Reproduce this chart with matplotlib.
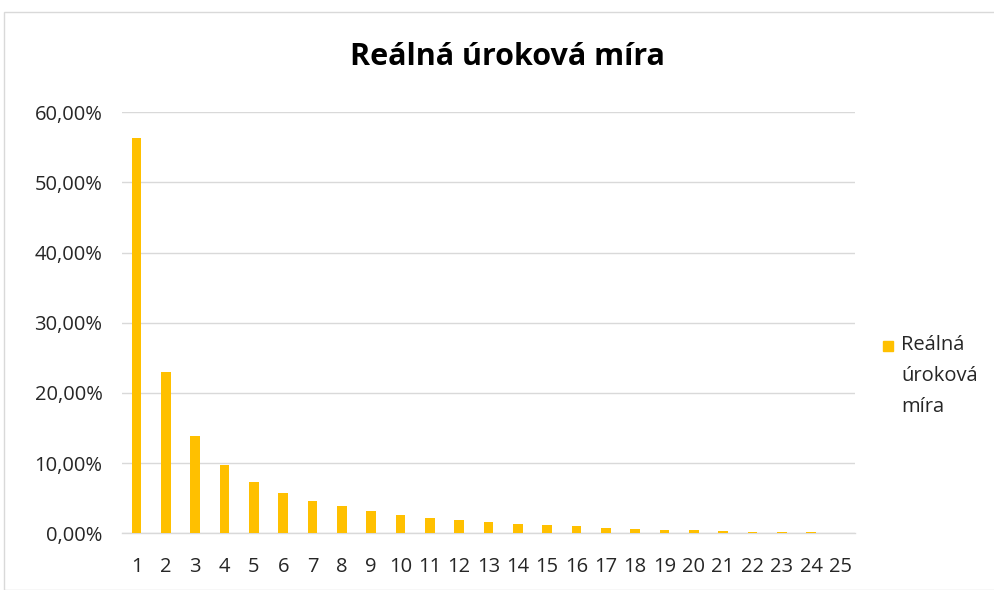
import matplotlib.pyplot as plt
from matplotlib.patches import Rectangle
import numpy as np

plt.rcParams['font.family'] = ['Open Sans', 'DejaVu Sans']

periods = [str(i) for i in range(1, 26)]
rates = [56.34, 22.95, 13.87, 9.74, 7.32, 5.75, 4.61, 3.85, 3.15, 2.66,
         2.23, 1.90, 1.57, 1.38, 1.19, 1.00, 0.81, 0.67, 0.52, 0.43,
         0.33, 0.24, 0.17, 0.12, 0.0]
yticks = [0, 10, 20, 30, 40, 50, 60]
series_name = "Reálná úroková míra"

fig = plt.figure(figsize=(9.94, 5.9), dpi=100)
W, H = 994, 590

# chart border
fig.patches.append(Rectangle((4 / W, 0), 1.0, 1 - 12 / H, transform=fig.transFigure,
                             fill=False, edgecolor='#d9d9d9', linewidth=1))

ax = fig.add_axes([122 / W, 1 - 533.3 / H, (855 - 122) / W, (533.3 - 112.3) / H])
x = np.arange(len(periods))
ax.bar(x, rates, width=0.33, color='#FFC000', zorder=3, label=series_name)

ax.set_xlim(-0.5, len(periods) - 0.5)
ax.set_ylim(0, 60)
ax.set_yticks(yticks)
ax.set_yticklabels([f"{v},00%" for v in yticks])
ax.set_xticks(x)
ax.set_xticklabels(periods)
ax.yaxis.grid(True, color='#d9d9d9', linewidth=1, zorder=0)
for s in ['top', 'right', 'left']:
    ax.spines[s].set_visible(False)
ax.spines['bottom'].set_color('#d9d9d9')
ax.spines['bottom'].set_linewidth(1)
ax.tick_params(axis='both', length=0, labelsize=14.5, colors='#262626')
ax.tick_params(axis='x', pad=17)
ax.tick_params(axis='y', pad=14)

fig.text(507 / W, 1 - 57 / H, series_name, ha='center', va='center',
         fontsize=22, fontweight='bold', color='black')

# legend
fig.patches.append(Rectangle((883 / W, 1 - 351 / H), 10 / W, 10 / H,
                             transform=fig.transFigure, color='#FFC000'))
fig.text(901 / W, 1 - 335 / H, "Reálná\núroková\nmíra", ha='left', va='top',
         fontsize=14.5, color='#262626', linespacing=1.72)

fig.savefig('out.png', dpi=100)
